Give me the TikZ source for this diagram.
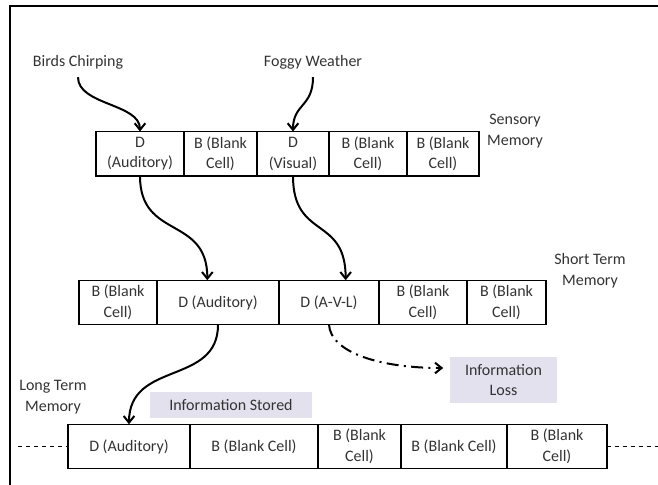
\documentclass[tikz,border=0pt]{standalone}
\usepackage{fontspec}
\setmainfont{Carlito}
\usepackage{tikz}
\usetikzlibrary{arrows.meta,positioning}

\begin{document}
\begin{tikzpicture}[
            x=0.75pt, y=-0.75pt,
            font=\fontsize{12}{15.5}\selectfont,
            node distance=0pt,
            cell/.style={draw, line width=0.9pt, text=black!80,
            minimum width=#1*0.75pt, minimum height=33.4pt,
            inner sep=1pt, outer sep=0pt, align=center},
            lbl/.style={text=black!80, align=center, inner sep=1pt},
            tag/.style={fill=tagfill, text=black!80, align=center, inner sep=1pt},
            flow/.style={-{Straight Barb[length=5pt,width=8pt]}, line width=1.5pt},
            lost/.style={flow, dash pattern=on 9pt off 4pt on 1.5pt off 4pt},
            frame/.style={line width=1.5pt}
        ]
\definecolor{tagfill}{RGB}{228,225,238}
\useasboundingbox (0,0) rectangle (658,485);
% outer frame
            \draw[frame] (10,485) -- (10,6) -- (658,6);
% inputs
            \node[lbl] (birds) at (78,62)  {Birds Chirping};
            \node[lbl] (fog)   at (313,62) {Foggy Weather};
% sensory memory
            \node[cell=88, anchor=west] (sm1) at (96,153.75) {D\\(Auditory)};
            \node[cell=73, right=of sm1] (sm2) {B (Blank\\Cell)};
            \node[cell=72, right=of sm2] (sm3) {D\\(Visual)};
            \node[cell=78, right=of sm3] (sm4) {B (Blank\\Cell)};
            \node[cell=72, right=of sm4] (sm5) {B (Blank\\Cell)};
            \node[lbl] (smlbl) at (515,131) {Sensory\\Memory};
% short term memory
            \node[cell=78, anchor=west] (st1) at (79,302.5) {B (Blank\\Cell)};
            \node[cell=122, right=of st1] (st2) {D (Auditory)};
            \node[cell=100, right=of st2] (st3) {D (A-V-L)};
            \node[cell=88, right=of st3]  (st4) {B (Blank\\Cell)};
            \node[cell=79, right=of st4]  (st5) {B (Blank\\Cell)};
            \node[lbl] (stlbl) at (590,271) {Short Term\\Memory};
% long term memory
            \node[cell=122, anchor=west] (lt1) at (68,446.5) {D (Auditory)};
            \node[cell=128, right=of lt1] (lt2) {B (Blank Cell)};
            \node[cell=83, right=of lt2]  (lt3) {B (Blank\\Cell)};
            \node[cell=106, right=of lt3] (lt4) {B (Blank Cell)};
            \node[cell=100, right=of lt4] (lt5) {B (Blank\\Cell)};
            \node[lbl] (ltlbl) at (53,397) {Long Term\\Memory};
            \coordinate (ltin)  at (18,446.5);
            \coordinate (ltout) at (658,446.5);
% tags
            \node[tag, minimum width=121.5pt, minimum height=19.5pt] (stored) at (231,405) {Information Stored};
            \node[tag, minimum width=80pt, minimum height=34.5pt] (loss) at (503.5,380) {Information\\Loss};

            \draw[flow] ([yshift=-5pt]birds.south) .. controls +(0,28) and +(0,-28) .. (sm1.north);
            \draw[flow] ([yshift=-5pt]fog.south) .. controls +(0,30) and +(0,-28) .. (sm3.north);
            \draw[flow] (sm1.south) .. controls +(0,64) and +(0,-65) .. ([xshift=-8pt]st2.north);
            \draw[flow] (sm3.south) .. controls +(0,64) and +(0,-65) .. ([xshift=12.5pt]st3.north);
            \draw[flow] (st2.south) .. controls +(0,61) and +(0,-64) .. (lt1.north);
            \draw[lost] (st3.south) .. controls +(2,28) and +(-63,0) .. ([xshift=-5pt,yshift=9pt]loss.west);
            \draw[dashed, thin] (ltin) -- (lt1.west);
            \draw[dashed, thin] (lt5.east) -- (ltout);
        \end{tikzpicture}
\end{document}
